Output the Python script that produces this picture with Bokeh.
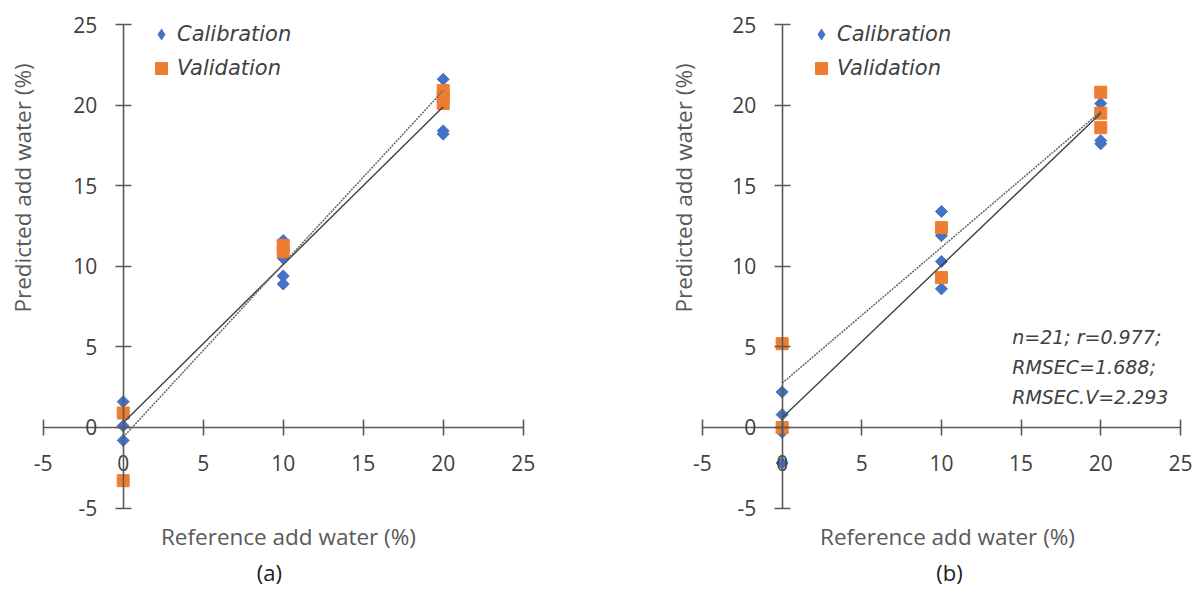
import numpy as np
from bokeh.plotting import figure
from bokeh.layouts import row
from bokeh.models import Range1d, FixedTicker, Label, Legend, LegendItem
from bokeh.embed import file_html
from bokeh.resources import INLINE

# ---------------- data ----------------
ticks = [-5, 0, 5, 10, 15, 20, 25]
tick_text = {-5: "-5"}

# panel (a)
a_cal_x = [0, 0, 0, 10, 10, 10, 10, 20, 20, 20]
a_cal_y = [1.6, 0.1, -0.8, 11.6, 10.5, 9.4, 8.9, 21.6, 18.4, 18.2]
a_val_x = [0, 0, 10, 10, 20, 20, 20]
a_val_y = [0.9, -3.3, 11.3, 10.9, 20.9, 20.5, 20.1]
a_calfit_x = [0, 20]
a_calfit_y = [0.3, 19.9]
a_valfit_x = [0, 20]
a_valfit_y = [-0.6, 20.9]

# panel (b)
b_cal_x = [0, 0, 0, 0, 10, 10, 10, 10, 20, 20, 20]
b_cal_y = [2.2, 0.8, -0.3, -2.2, 13.4, 11.9, 10.3, 8.6, 20.1, 17.8, 17.6]
b_val_x = [0, 0, 10, 10, 20, 20, 20]
b_val_y = [5.2, 0.0, 12.4, 9.3, 20.8, 19.5, 18.6]
b_calfit_x = [0, 20]
b_calfit_y = [0.6, 19.5]
b_valfit_x = [0, 20]
b_valfit_y = [2.75, 19.6]

stats_lines = ["n=21; r=0.977;", "RMSEC=1.688;", "RMSEC.V=2.293"]

x_title = "Reference add water (%)"
y_title = "Predicted add water (%)"

BLUE = "#4472C4"
ORANGE = "#ED7D31"
AXIS = "#595959"
TEXT = "#404040"

HEIGHT = 590
Y_RANGE = (-10.112, 26.489)


def make_panel(cal_x, cal_y, val_x, val_y, cfx, cfy, vfx, vfy,
               width, x_range, tag, tag_x, xt_x, yt_x, leg_x):
    p = figure(width=width, height=HEIGHT,
               x_range=Range1d(*x_range), y_range=Range1d(*Y_RANGE),
               output_backend="svg", toolbar_location=None,
               min_border=0)
    p.grid.visible = False
    p.outline_line_color = None
    p.background_fill_color = "white"
    p.border_fill_color = "white"

    for ax in (p.xaxis[0], p.yaxis[0]):
        ax.fixed_location = 0
        ax.bounds = (-5, 25)
        ax.ticker = FixedTicker(ticks=ticks)
        ax.major_label_overrides = tick_text
        ax.axis_line_color = AXIS
        ax.axis_line_width = 1.6
        ax.major_tick_line_color = AXIS
        ax.major_tick_line_width = 1.6
        ax.major_tick_in = 8
        ax.major_tick_out = 8
        ax.minor_tick_line_color = None
        ax.major_label_text_font = "Open Sans"
        ax.major_label_text_font_size = "21px"
        ax.major_label_text_color = TEXT
    p.xaxis.major_label_standoff = 20
    p.yaxis.major_label_standoff = 18

    # calibration points drawn as diamonds (rotated squares)
    p.scatter(cal_x, cal_y, marker="square", angle=np.pi / 4, size=8.5,
              fill_color=BLUE, line_color=BLUE)
    # same calibration points, zero-size, only used for the legend glyph
    r_cal_leg = p.scatter(cal_x, cal_y, marker="diamond", size=0,
                          fill_color=BLUE, line_color=None)
    r_val = p.scatter(val_x, val_y, marker="square", size=12,
                      fill_color=ORANGE, line_color=ORANGE)
    p.line(cfx, cfy, line_color="#404040", line_width=1.4)
    p.line(vfx, vfy, line_color="#666666", line_width=1.5, line_dash="2 1")

    legend = Legend(items=[LegendItem(label="Calibration", renderers=[r_cal_leg]),
                           LegendItem(label="Validation", renderers=[r_val])],
                    location=(leg_x, 506.7), glyph_width=30, glyph_height=30,
                    label_height=30, spacing=4, padding=0, margin=0,
                    label_standoff=1,
                    label_text_font="DejaVu Sans", label_text_font_style="italic",
                    label_text_font_size="21px", label_text_color=TEXT,
                    background_fill_alpha=0, border_line_color=None)
    p.add_layout(legend)

    p.add_layout(Label(x=xt_x, y=-6.76, text=x_title, text_align="center",
                       text_baseline="middle", text_font="Open Sans",
                       text_font_size="22.5px", text_color=AXIS))
    p.add_layout(Label(x=yt_x, y=14.86, text=y_title, angle=np.pi / 2,
                       text_align="center", text_baseline="middle",
                       text_font="Open Sans", text_font_size="22.5px",
                       text_color=AXIS))
    p.add_layout(Label(x=tag_x, y=-8.95, text=tag, text_align="center",
                       text_baseline="middle", text_font="Open Sans",
                       text_font_size="22px", text_color="#202020"))
    return p


pa = make_panel(a_cal_x, a_cal_y, a_val_x, a_val_y,
                a_calfit_x, a_calfit_y, a_valfit_x, a_valfit_y,
                width=562, x_range=(-7.669, 27.456),
                tag="(a)", tag_x=9.14, xt_x=10.33, yt_x=-6.29, leg_x=146)

pb = make_panel(b_cal_x, b_cal_y, b_val_x, b_val_y,
                b_calfit_x, b_calfit_y, b_valfit_x, b_valfit_y,
                width=636, x_range=(-13.788, 26.136),
                tag="(b)", tag_x=10.5, xt_x=10.38, yt_x=-6.19, leg_x=244)

stats_y = [5.60, 3.74, 1.88]
for txt, yy in zip(stats_lines, stats_y):
    pb.add_layout(Label(x=14.44, y=yy, text=txt, text_align="left",
                        text_baseline="middle", text_font="DejaVu Sans",
                        text_font_style="italic", text_font_size="19px",
                        text_color=TEXT))

layout = row(pa, pb)
open("out.html", "w").write(file_html(layout, INLINE))
